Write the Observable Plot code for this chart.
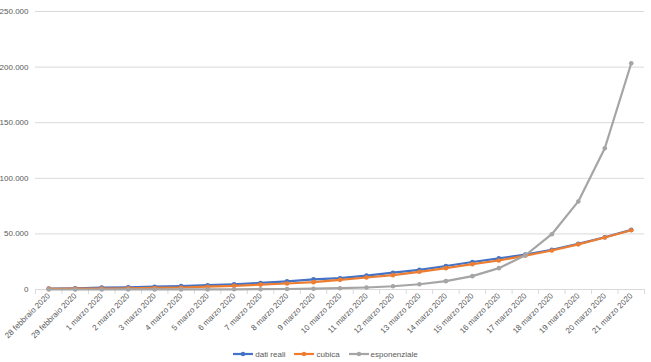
<!DOCTYPE html>
<html>
<head>
<meta charset="utf-8">
<script src="https://cdn.jsdelivr.net/npm/d3@7"></script>
<script src="https://cdn.jsdelivr.net/npm/@observablehq/plot@0.6"></script>
<style>
  body { margin: 0; background: #fff; font-family: "Liberation Sans", sans-serif; }
  #wrap { width: 651px; height: 362px; position: relative; }
  #legend { position: absolute; left: 0; top: 346px; width: 651px; height: 16px; display: flex; justify-content: center; align-items: center; gap: 9px; font-size: 8px; color: #595959; }
  #legend .item { display: flex; align-items: center; gap: 2px; }
</style>
</head>
<body>
<div id="wrap">
  <div id="chart"></div>
  <div id="legend"></div>
</div>
<script>
const categories = [
  "28 febbraio 2020", "29 febbraio 2020", "1 marzo 2020", "2 marzo 2020", "3 marzo 2020",
  "4 marzo 2020", "5 marzo 2020", "6 marzo 2020", "7 marzo 2020", "8 marzo 2020",
  "9 marzo 2020", "10 marzo 2020", "11 marzo 2020", "12 marzo 2020", "13 marzo 2020",
  "14 marzo 2020", "15 marzo 2020", "16 marzo 2020", "17 marzo 2020", "18 marzo 2020",
  "19 marzo 2020", "20 marzo 2020", "21 marzo 2020"
];
const datiReali = [888, 1128, 1694, 2036, 2502, 3089, 3858, 4636, 5883, 7375, 9172, 10149,
  12462, 15113, 17660, 21157, 24747, 27980, 31506, 35713, 41035, 47021, 53578];
const cubica = [600, 700, 900, 1100, 1400, 1800, 2500, 3300, 4400, 5400, 6600, 8700,
  10800, 12900, 15900, 19200, 22800, 26100, 30500, 35100, 40600, 46800, 53300];
const esponenziale = [7, 11, 18, 28, 45, 70, 110, 175, 280, 450, 720, 1150,
  1800, 2900, 4700, 7500, 12000, 19200, 30800, 49700, 79200, 127000, 203500];
const yTicks = [0, 50000, 100000, 150000, 200000, 250000];
const seriesNames = ["dati reali", "cubica", "esponenziale"];
const seriesColors = ["#4472C4", "#ED7D31", "#A5A5A5"];

const seriesValues = [datiReali, cubica, esponenziale];
const rows = [];
seriesValues.forEach((vals, s) => vals.forEach((v, i) => rows.push({serie: seriesNames[s], i, v})));

const fmt = d3.formatLocale({decimal: ",", thousands: ".", grouping: [3], currency: ["€", ""]}).format(",");
const idx = categories.map((_, i) => i);
const boundaries = d3.range(categories.length + 1).map(i => i - 0.5);

const marks = [
  Plot.gridY(yTicks.filter(d => d > 0), {stroke: "#D9D9D9", strokeOpacity: 1, strokeWidth: 1}),
  Plot.ruleY([0], {stroke: "#D9D9D9", strokeWidth: 1}),
  Plot.axisX(boundaries, {tickSize: 5, tickFormat: () => "", stroke: "#D9D9D9", label: null}),
  Plot.axisX(idx, {tickSize: 0, tickPadding: 5, tickRotate: -45, tickFormat: i => categories[i],
    fill: "#595959", fontSize: 8, label: null}),
  Plot.axisY(yTicks, {tickSize: 0, tickPadding: 7, tickFormat: fmt, fill: "#595959", fontSize: 8, label: null})
];
seriesNames.forEach((name, s) => {
  const data = rows.filter(r => r.serie === name);
  marks.push(Plot.line(data, {x: "i", y: "v", stroke: seriesColors[s], strokeWidth: 2.2}));
  marks.push(Plot.dot(data, {x: "i", y: "v", fill: seriesColors[s], r: 2.3}));
});

const chart = Plot.plot({
  width: 651,
  height: 346,
  marginLeft: 35,
  marginRight: 7,
  marginTop: 11,
  marginBottom: 57,
  style: {fontFamily: "Liberation Sans, sans-serif", fontSize: "8px", background: "#fff"},
  x: {type: "linear", domain: [-0.5, categories.length - 0.5], label: null},
  y: {domain: [0, 250000], label: null},
  marks
});
document.getElementById("chart").appendChild(chart);

const legend = document.getElementById("legend");
seriesNames.forEach((name, s) => {
  const item = document.createElement("div");
  item.className = "item";
  item.innerHTML = `<svg width="20" height="6"><line x1="0" y1="3" x2="20" y2="3" stroke="${seriesColors[s]}" stroke-width="2.2"/><circle cx="10" cy="3" r="2.2" fill="${seriesColors[s]}"/></svg><span>${name}</span>`;
  legend.appendChild(item);
});
</script>
</body>
</html>
